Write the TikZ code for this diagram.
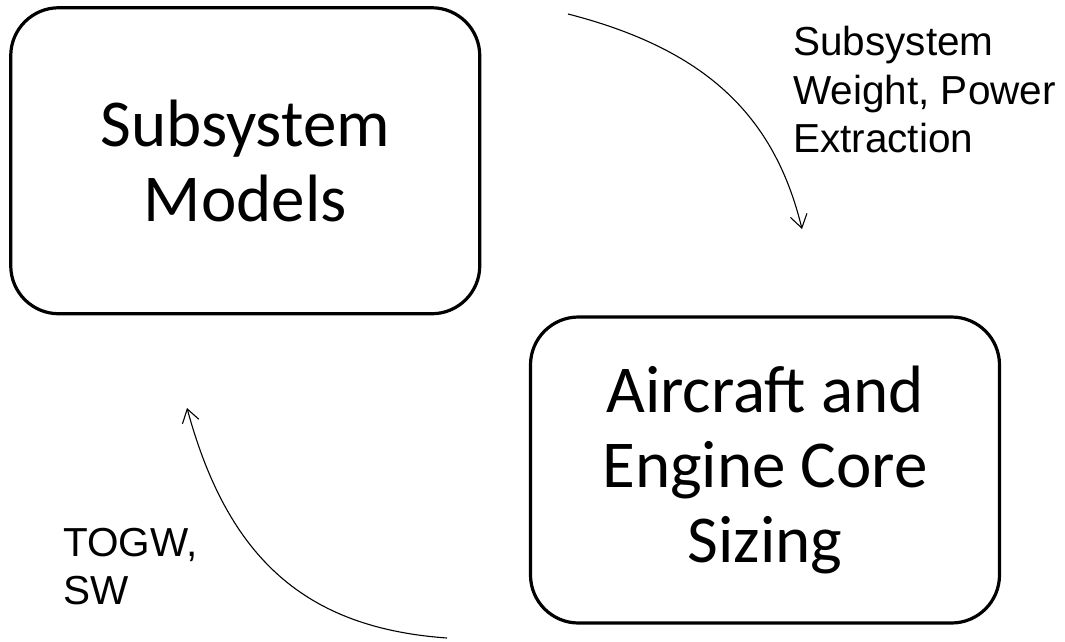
\documentclass[tikz,border=0pt]{standalone}
\usepackage{fontspec}
\setmainfont{Carlito}
\newfontfamily\labelfont{Liberation Sans}
\usetikzlibrary{arrows.meta}

\tikzset{
  stage/.style={draw=black, line width=3.2pt, rounded corners=48pt,
    minimum width=469pt, minimum height=306pt, align=center,
    inner sep=0pt, font=\fontsize{67}{75}\selectfont},
  flowlabel/.style={anchor=north west, inner sep=0pt, align=left,
    font=\labelfont\fontsize{40.5}{48.5}\selectfont},
  flow/.style={line width=1.1pt, -{Straight Barb[length=13pt,width=17pt,line width=1.1pt]}}
}

\begin{document}
\begin{tikzpicture}[x=1pt, y=-1pt]
  \useasboundingbox (0,0) rectangle (1065,642);

  % the two stages of the sizing loop
  \node[stage] (models) at (245.25,160.75) {Subsystem\\Models};
  \node[stage] (sizing) at (765,470) {Aircraft and\\Engine Core\\Sizing};

  % free ends of the two curved connectors
  \coordinate (outA) at (568,14);
  \coordinate (inB)  at (802,229);
  \coordinate (outB) at (447,638);
  \coordinate (inA)  at (187,408);

  % subsystem results feed the sizing loop
  \draw[flow] (outA) .. controls (704,49) and (774,114) .. (inB);
  % sized aircraft values go back to the subsystem models
  \draw[flow] (outB) .. controls (306,628) and (228,559) .. (inA);

  \node[flowlabel] (wpx) at (793,26) {Subsystem\\Weight, Power\\Extraction};
  \node[flowlabel] (togw) at (63,528) {TOGW,\\SW};
\end{tikzpicture}
\end{document}
